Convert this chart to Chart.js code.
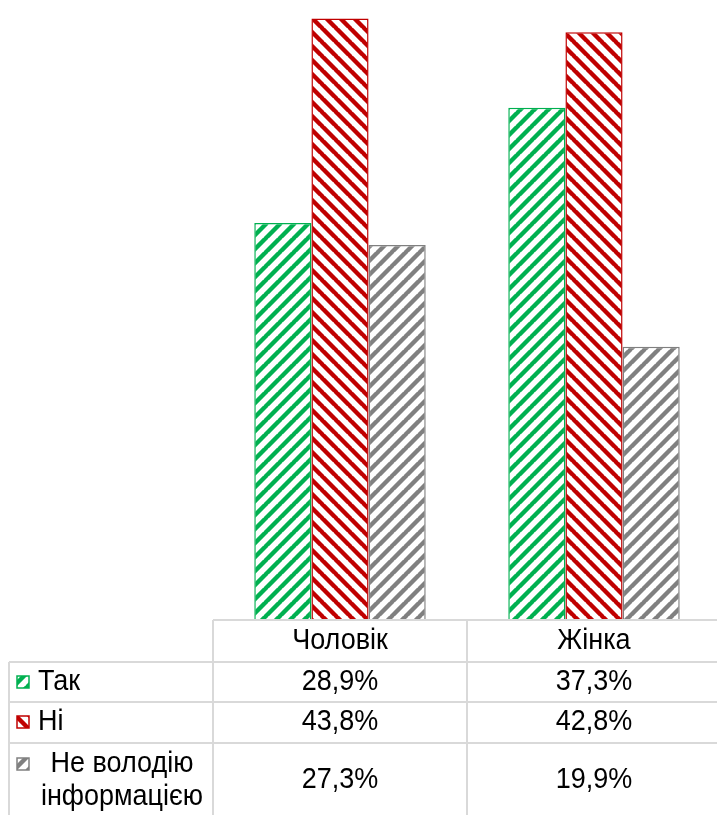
<!DOCTYPE html>
<html>
<head>
<meta charset="utf-8">
<script src="https://cdn.jsdelivr.net/npm/chart.js@4"></script>
<style>
  html, body { margin: 0; padding: 0; background: #fff; overflow: hidden; }
  #wrap { width: 717px; height: 815px; position: relative; overflow: hidden; }
</style>
</head>
<body>
<div id="wrap"><canvas id="c" width="721" height="815"></canvas></div>
<script>
const categories = ['Чоловік', 'Жінка'];
const seriesNames = ['Так', 'Ні', 'Не володію інформацією'];
const seriesLabelLines = [['Так'], ['Ні'], ['Не володію', 'інформацією']];
const yesValues = [28.9, 37.3];
const noValues = [43.8, 42.8];
const unknownValues = [27.3, 19.9];

const colors = ['#00B050', '#C00000', '#808080'];
const directions = ['up', 'down', 'up'];

function makePattern(color, dir) {
  const s = 14;
  const c = document.createElement('canvas');
  c.width = s; c.height = s;
  const g = c.getContext('2d');
  g.fillStyle = '#fff';
  g.fillRect(0, 0, s, s);
  g.strokeStyle = color;
  g.lineWidth = 4.4;
  g.beginPath();
  for (let k = -1; k <= 1; k++) {
    if (dir === 'up') {
      g.moveTo(k * s - 1, s + 1);
      g.lineTo(k * s + s + 1, -1);
    } else {
      g.moveTo(k * s - 1, -1);
      g.lineTo(k * s + s + 1, s + 1);
    }
  }
  g.stroke();
  return g.createPattern(c, 'repeat');
}

const ctx0 = document.getElementById('c').getContext('2d');
const patterns = colors.map((c, i) => makePattern(c, directions[i]));
const seriesValues = [yesValues, noValues, unknownValues];
function fmt(v) { return v.toFixed(1).replace('.', ',') + '%'; }

const FONT = '27px "Liberation Sans", Arial, sans-serif';
const GRID = '#d9d9d9';
const SY = 1.1;

function text(ctx, s, x, y) {
  ctx.save();
  ctx.translate(x, y);
  ctx.scale(1, SY);
  ctx.fillText(s, 0, 0);
  ctx.restore();
}

const tablePlugin = {
  id: 'dataTable',
  afterDraw(chart) {
    const ctx = chart.ctx;
    const xs = chart.scales.x;
    const top = chart.chartArea.bottom;
    const left = chart.chartArea.left;
    const right = chart.width;
    const bottom = chart.height;
    const outerLeft = 9;
    const rowLines = [top + 42, top + 82, top + 123];
    const mid = (xs.getPixelForValue(0) + xs.getPixelForValue(1)) / 2;
    ctx.save();
    ctx.strokeStyle = GRID;
    ctx.lineWidth = 2;
    ctx.beginPath();
    ctx.moveTo(left, top); ctx.lineTo(right, top);
    rowLines.forEach(y => { ctx.moveTo(outerLeft, y); ctx.lineTo(right, y); });
    ctx.moveTo(outerLeft, rowLines[0]); ctx.lineTo(outerLeft, bottom);
    ctx.moveTo(left, top); ctx.lineTo(left, bottom);
    ctx.moveTo(mid, top); ctx.lineTo(mid, bottom);
    ctx.stroke();

    ctx.font = FONT;
    ctx.fillStyle = '#000';
    ctx.textBaseline = 'middle';
    ctx.textAlign = 'center';
    categories.forEach((c, i) => {
      text(ctx, c, xs.getPixelForValue(i), top + 21);
    });
    const rowCenters = [top + 62, top + 102, top + 160];
    seriesValues.forEach((vals, r) => {
      vals.forEach((v, i) => {
        text(ctx, fmt(v), xs.getPixelForValue(i), rowCenters[r]);
      });
    });
    const keySize = 12;
    seriesLabelLines.forEach((lines, r) => {
      let keyY;
      if (lines.length === 1) {
        keyY = rowCenters[r] - keySize / 2;
      } else {
        keyY = rowCenters[r] - 22;
      }
      ctx.fillStyle = patterns[r];
      ctx.fillRect(17, keyY, keySize, keySize);
      ctx.strokeStyle = colors[r];
      ctx.lineWidth = 1.5;
      ctx.strokeRect(17, keyY, keySize, keySize);
      ctx.fillStyle = '#000';
      if (lines.length === 1) {
        ctx.textAlign = 'left';
        text(ctx, lines[0], 38, rowCenters[r]);
      } else {
        ctx.textAlign = 'center';
        text(ctx, lines[0], 122, rowCenters[r] - 16);
        text(ctx, lines[1], 122, rowCenters[r] + 17);
      }
    });
    ctx.restore();
  }
};

new Chart(ctx0, {
  type: 'bar',
  data: {
    labels: categories,
    datasets: seriesNames.map((n, i) => ({
      label: n,
      data: seriesValues[i],
      backgroundColor: patterns[i],
      borderColor: colors[i],
      borderWidth: 1.5,
      categoryPercentage: 0.675,
      barPercentage: 1.0
    }))
  },
  options: {
    responsive: false,
    animation: false,
    devicePixelRatio: 1,
    layout: { padding: { left: 213, right: 0, top: 2, bottom: 195 } },
    plugins: { legend: { display: false }, tooltip: { enabled: false } },
    scales: {
      x: { display: false },
      y: { display: false, min: 0, max: 45 }
    }
  },
  plugins: [tablePlugin]
});
</script>
</body>
</html>
